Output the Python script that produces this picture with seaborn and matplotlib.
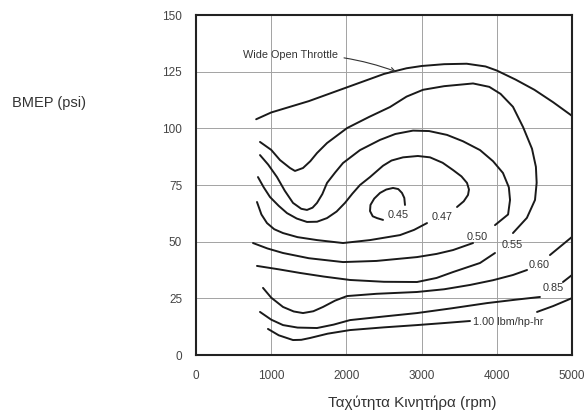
import matplotlib
matplotlib.use("Agg")
import matplotlib.pyplot as plt
import seaborn as sns
import pandas as pd

# ---------------- data ----------------
x_ticks = [0, 1000, 2000, 3000, 4000, 5000]
y_ticks = [0, 25, 50, 75, 100, 125, 150]

wot_rpm = [800, 1000, 1500, 2000, 2500, 2800, 3000, 3300, 3600, 3850, 4000, 4250, 4500, 4750, 5000]
wot_bmep = [104, 107, 112, 118, 124.0, 126.5, 127.5, 128.3, 128.5, 127.3, 125.5, 121.5, 117, 111.5, 105.5]

c055_up_rpm = [851, 1000, 1117, 1250, 1316, 1423, 1520, 1609, 1742, 2008, 2300, 2580, 2800, 3019, 3300, 3684, 3900, 4050, 4215, 4350, 4468, 4520, 4530, 4508, 4400, 4215]
c055_up_bmep = [94.0, 90.5, 86.0, 82.5, 81.2, 82.5, 85.5, 89.1, 93.5, 100.1, 105.0, 109.4, 114.0, 117.0, 118.6, 119.8, 118.3, 115.2, 109.5, 100.5, 91.0, 83.0, 76.0, 68.4, 60.5, 53.8]
c055_lo_rpm = [811, 1100, 1383, 1700, 2048, 2500, 2939, 3200, 3418, 3777, 3976]
c055_lo_bmep = [39.3, 37.8, 36.2, 34.6, 33.1, 32.3, 32.2, 34.0, 36.6, 40.6, 45.0]

c050_up_rpm = [851, 960, 1077, 1180, 1290, 1400, 1476, 1550, 1609, 1680, 1742, 1850, 1955, 2181, 2447, 2650, 2886, 3100, 3338, 3550, 3777, 3950, 4082, 4160, 4176, 4150, 3976]
c050_up_bmep = [88.2, 84.0, 78.5, 72.5, 67.1, 64.5, 64.0, 65.0, 67.1, 71.0, 75.9, 80.5, 84.7, 90.4, 94.9, 97.5, 99.0, 98.8, 97.1, 94.3, 90.4, 85.5, 80.3, 74.0, 68.4, 62.0, 57.3]
c050_lo_rpm = [758, 950, 1157, 1500, 1955, 2400, 2939, 3200, 3418, 3684]
c050_lo_bmep = [49.4, 47.0, 45.0, 42.7, 41.0, 41.5, 43.2, 44.6, 46.3, 49.4]

c047_up_rpm = [824, 900, 984, 1100, 1210, 1340, 1476, 1610, 1742, 1870, 1981, 2080, 2181, 2314, 2487, 2600, 2753, 2950, 3112, 3280, 3418, 3530, 3604, 3630, 3617, 3560, 3471]
c047_up_bmep = [78.5, 74.0, 69.7, 65.8, 62.6, 60.2, 58.7, 58.8, 60.4, 63.3, 67.1, 71.2, 75.0, 78.5, 83.5, 85.8, 87.2, 87.8, 87.2, 84.8, 81.6, 78.8, 75.9, 73.0, 70.6, 67.8, 65.3]
c047_lo_rpm = [811, 870, 944, 1040, 1157, 1350, 1609, 1955, 2314, 2713, 2900, 3072]
c047_lo_bmep = [67.5, 62.0, 58.2, 55.5, 53.8, 52.0, 50.7, 49.4, 50.7, 52.9, 55.2, 58.2]

c045_rpm = [2779, 2770, 2739, 2690, 2620, 2530, 2447, 2370, 2320, 2314, 2350, 2407, 2487]
c045_bmep = [66.2, 69.3, 71.5, 73.2, 73.7, 73.0, 71.5, 69.0, 66.2, 63.5, 61.2, 60.4, 59.6]

c060_a_rpm = [891, 1000, 1157, 1300, 1423, 1560, 1689, 1850, 2008, 2400, 2939, 3300, 3644, 3950, 4215, 4402]
c060_a_bmep = [29.6, 25.3, 21.2, 19.2, 18.5, 19.3, 21.2, 24.0, 26.0, 27.0, 27.8, 29.0, 30.9, 33.0, 35.3, 37.5]
c060_b_rpm = [4707, 4850, 5000]
c060_b_bmep = [44.1, 48.0, 52.1]

c085_a_rpm = [851, 1000, 1157, 1350, 1609, 1830, 2048, 2500, 2939, 3400, 3870, 4250, 4574]
c085_a_bmep = [19.0, 15.6, 13.2, 12.1, 11.9, 13.4, 15.4, 17.0, 18.5, 20.6, 22.9, 24.4, 25.6]
c085_b_rpm = [4880, 4950, 5000]
c085_b_bmep = [32.2, 34.0, 35.3]

c100_a_rpm = [957, 1100, 1290, 1400, 1516, 1750, 2048, 2500, 2939, 3300, 3644]
c100_a_bmep = [11.5, 8.7, 6.6, 6.7, 7.5, 9.4, 11.0, 12.2, 13.2, 14.1, 15.0]
c100_b_rpm = [4535, 4750, 5000]
c100_b_bmep = [19.0, 21.6, 25.1]

contour_labels = ["0.45", "0.47", "0.50", "0.55", "0.60", "0.85", "1.00 lbm/hp-hr"]
label_rpm = [2686, 3271, 3737, 4202, 4561, 4747, 3684]
label_bmep = [61.8, 60.9, 52.1, 48.5, 39.7, 29.6, 14.6]

segments = {
    "wot": (wot_rpm, wot_bmep),
    "055u": (c055_up_rpm, c055_up_bmep), "055l": (c055_lo_rpm, c055_lo_bmep),
    "050u": (c050_up_rpm, c050_up_bmep), "050l": (c050_lo_rpm, c050_lo_bmep),
    "047u": (c047_up_rpm, c047_up_bmep), "047l": (c047_lo_rpm, c047_lo_bmep),
    "045": (c045_rpm, c045_bmep),
    "060a": (c060_a_rpm, c060_a_bmep), "060b": (c060_b_rpm, c060_b_bmep),
    "085a": (c085_a_rpm, c085_a_bmep), "085b": (c085_b_rpm, c085_b_bmep),
    "100a": (c100_a_rpm, c100_a_bmep), "100b": (c100_b_rpm, c100_b_bmep),
}
rows = []
for name, (xs, ys) in segments.items():
    for i, (xv, yv) in enumerate(zip(xs, ys)):
        rows.append({"curve": name, "order": i, "rpm": xv, "bmep": yv})
df = pd.DataFrame(rows)

# ---------------- figure ----------------
sns.set_style("whitegrid")
plt.rcParams["font.family"] = ["Liberation Sans", "DejaVu Sans"]

fig = plt.figure(figsize=(5.88, 4.19), dpi=100)
ax = fig.add_axes([196 / 588, 1 - 355 / 419, (572 - 196) / 588, (355 - 15) / 419])

sns.lineplot(data=df, x="rpm", y="bmep", units="curve", estimator=None,
             sort=False, color="#1a1a1a", linewidth=1.4, ax=ax, legend=False)
for line in ax.lines:
    line.set_solid_joinstyle("round")
    line.set_solid_capstyle("round")

ax.set_xlim(0, 5000)
ax.set_ylim(0, 150)
ax.set_xticks(x_ticks)
ax.set_yticks(y_ticks)
ax.set_xticklabels([str(v) for v in x_ticks], fontsize=8.5, color="#444444")
ax.set_yticklabels([str(v) for v in y_ticks], fontsize=8.5, color="#444444")
ax.tick_params(axis="x", pad=11, length=0)
ax.tick_params(axis="y", pad=10, length=0)
ax.grid(True, color="#a3a3a3", linewidth=0.7)
for s in ax.spines.values():
    s.set_color("#222222")
    s.set_linewidth(1.5)
ax.set_xlabel("")
ax.set_ylabel("")

for t, xv, yv in zip(contour_labels, label_rpm, label_bmep):
    ha = "left" if t.startswith("1.00") else "center"
    ax.text(xv, yv, t, fontsize=7.8, color="#333333", ha=ha, va="center")

ax.annotate("Wide Open Throttle", xy=(2660, 125.0), xytext=(625, 132.5),
            fontsize=7.8, color="#333333", va="center", ha="left",
            arrowprops=dict(arrowstyle="->", color="#333333", lw=0.8,
                            connectionstyle="arc3,rad=-0.1",
                            shrinkA=2, shrinkB=0))

fig.text(12 / 588, 1 - 103 / 419, "BMEP (psi)", fontsize=10.5, color="#333333",
         ha="left", va="center")
fig.text(412 / 588, 1 - 403 / 419, "Ταχύτητα Κινητήρα (rpm)", fontsize=11,
         color="#333333", ha="center", va="center")

fig.savefig("out.png", dpi=100)
